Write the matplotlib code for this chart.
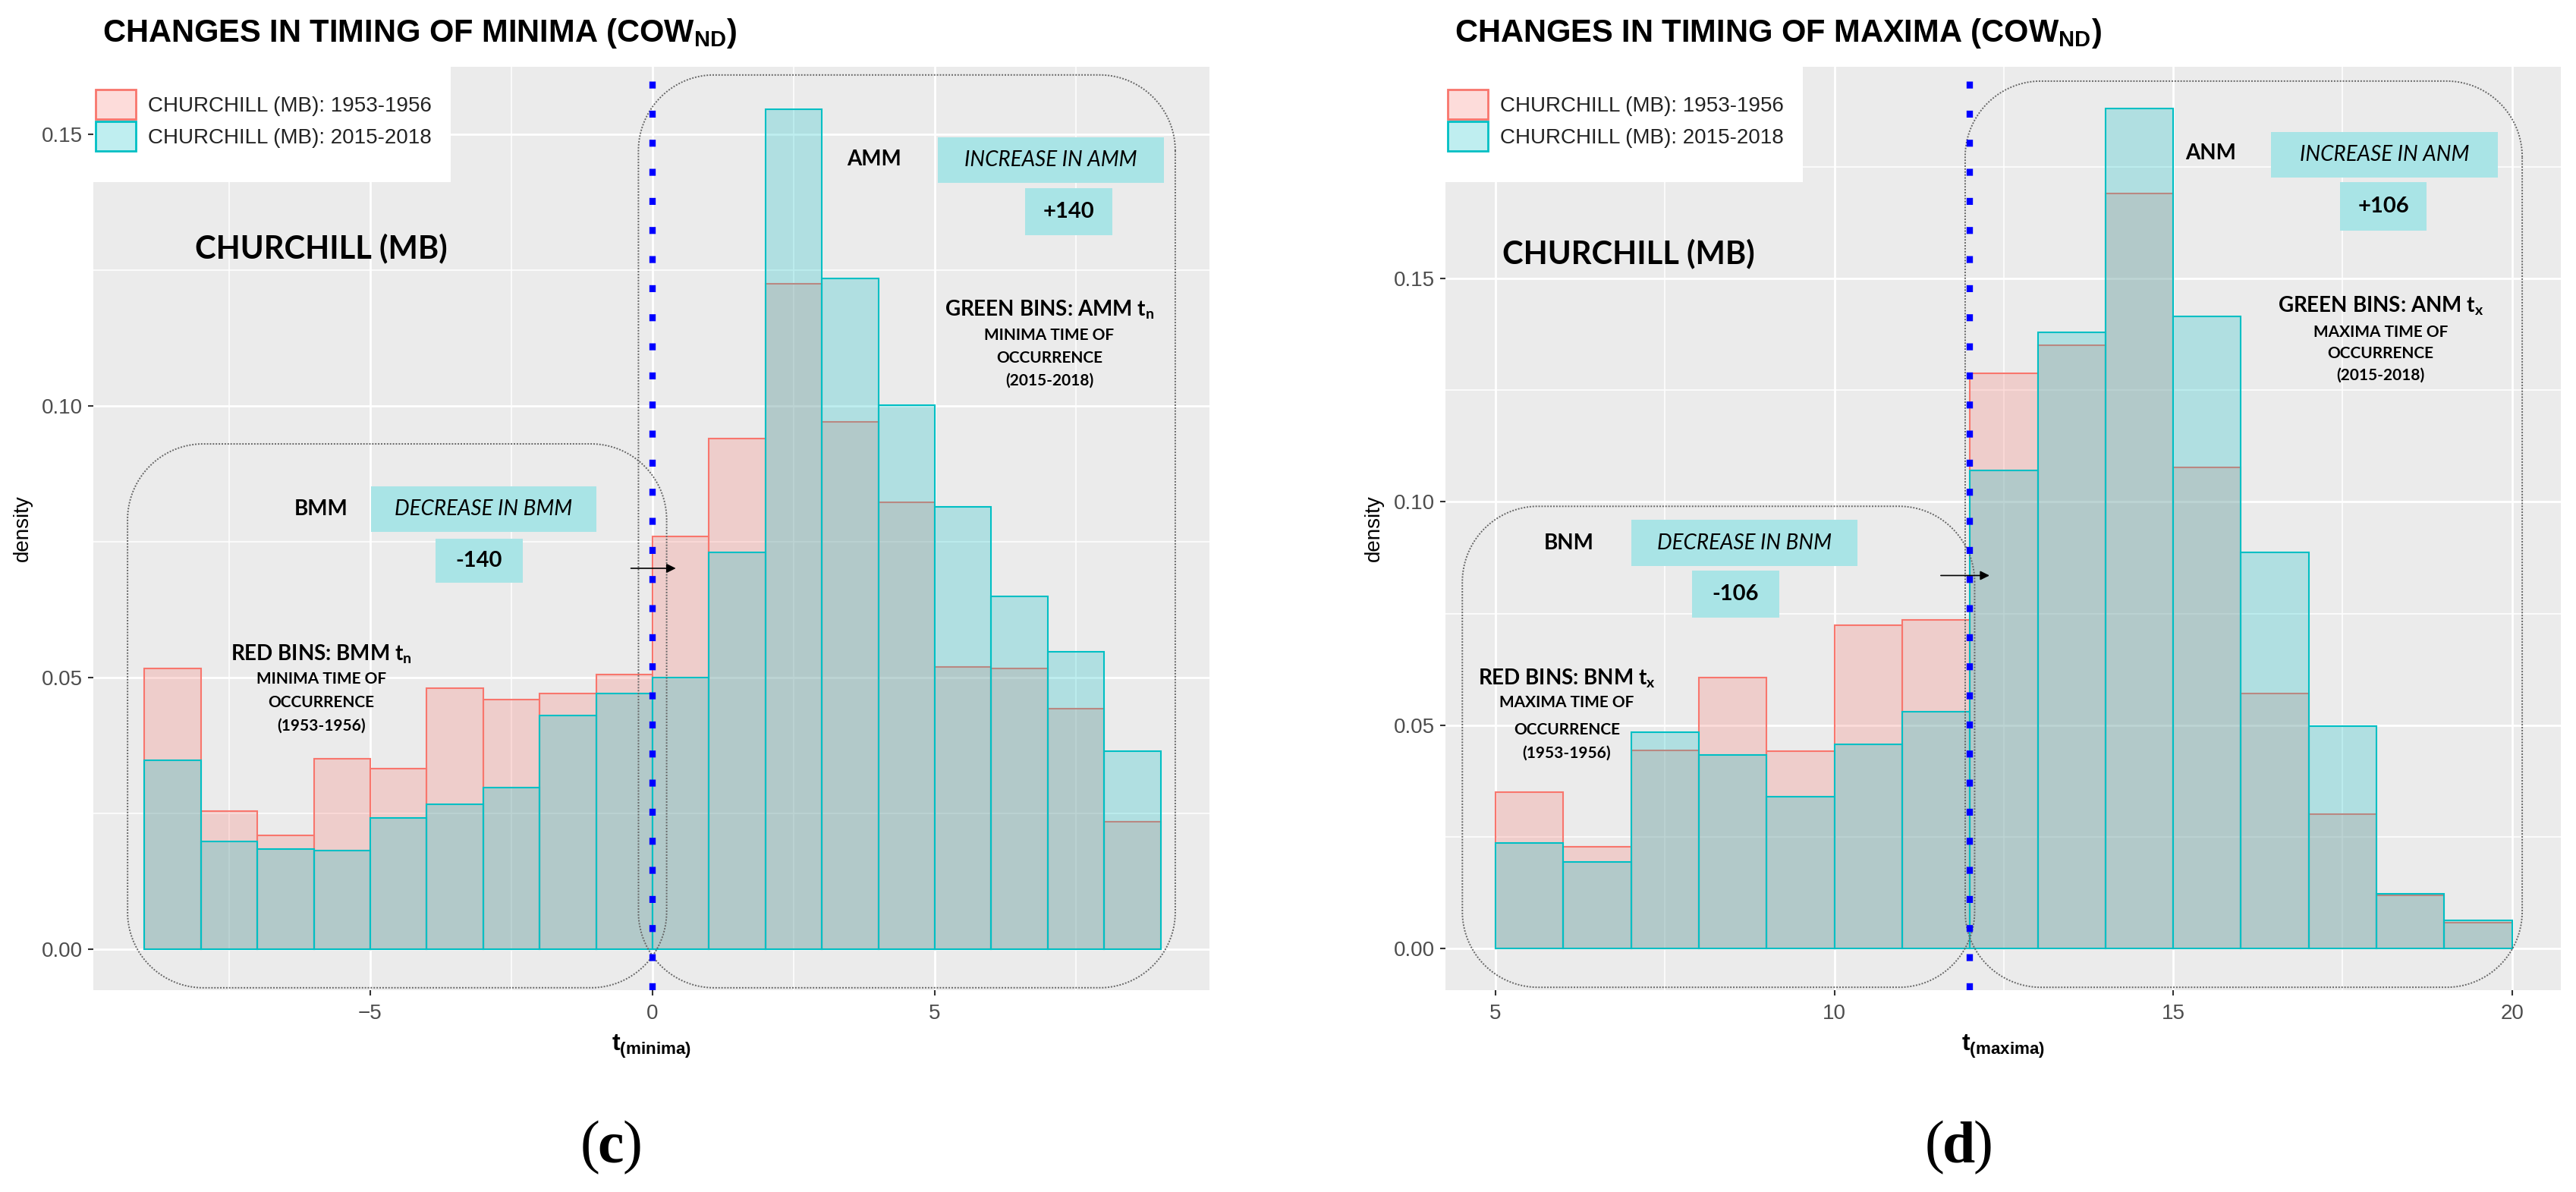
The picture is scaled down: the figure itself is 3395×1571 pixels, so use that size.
import numpy as np
import matplotlib
matplotlib.use("Agg")
import matplotlib.pyplot as plt
from matplotlib.patches import Patch, Rectangle
from matplotlib.colors import to_rgba

W, H = 3395, 1571
DPI = 100

# ── data: densities per 1-unit bin ───────────────────────────────────────────
min_edges = list(range(-9, 10))
min_1953 = [0.0517, 0.0254, 0.0209, 0.0351, 0.0332, 0.0480, 0.0460, 0.0470, 0.0505,
            0.0759, 0.0940, 0.1225, 0.0970, 0.0823, 0.0520, 0.0517, 0.0442, 0.0234]
min_2015 = [0.0348, 0.0198, 0.0185, 0.0181, 0.0241, 0.0267, 0.0297, 0.0430, 0.0470,
            0.0500, 0.0730, 0.1546, 0.1234, 0.1001, 0.0814, 0.0650, 0.0548, 0.0365]

max_edges = list(range(5, 21))
max_1953 = [0.0350, 0.0228, 0.0443, 0.0607, 0.0442, 0.0724, 0.0735, 0.1287,
            0.1350, 0.1690, 0.1077, 0.0570, 0.0300, 0.0119, 0.0057]
max_2015 = [0.0236, 0.0193, 0.0485, 0.0433, 0.0339, 0.0457, 0.0530, 0.1070,
            0.1380, 0.1880, 0.1415, 0.0886, 0.0497, 0.0123, 0.0063]

labels = ["CHURCHILL (MB): 1953-1956", "CHURCHILL (MB): 2015-2018"]

RED = "#F8766D"
TEAL = "#00BFC4"
BOXC = "#A9E4E6"
SANS = "Liberation Sans"
ANN = "Lato"

fig = plt.figure(figsize=(W / DPI, H / DPI), dpi=DPI)
fig.patch.set_facecolor("white")

# panel pixel geometry (top, bottom)
P_TOP, P_BOT = 88, 1305


def make_panel(x0px, x1px, xlim, ylim, xticks, xminor, yminor, xlab):
    ax = fig.add_axes([x0px / W, 1 - P_BOT / H, (x1px - x0px) / W, (P_BOT - P_TOP) / H])
    ax.set_facecolor("#EBEBEB")
    for s in ax.spines.values():
        s.set_visible(False)
    ax.set_axisbelow(True)
    ax.set_xticks(xticks)
    ax.set_xticks(xminor, minor=True)
    ax.set_yticks([0, 0.05, 0.10, 0.15])
    ax.set_yticks(yminor, minor=True)
    ax.set_yticklabels(["0.00", "0.05", "0.10", "0.15"])
    # limits after ticks so set_ticks cannot widen them
    ax.set_xlim(*xlim)
    ax.set_ylim(*ylim)
    ax.grid(which="major", color="white", lw=2.0)
    ax.grid(which="minor", color="white", lw=1.1)
    ax.tick_params(which="minor", length=0)
    ax.tick_params(which="major", length=5, width=1.5, color="#333333",
                   labelsize=20, labelcolor="#4D4D4D")
    ax.tick_params(axis="x", pad=8)
    ax.tick_params(axis="y", pad=5)
    for lab in ax.get_xticklabels() + ax.get_yticklabels():
        lab.set_family(SANS)
    ax.set_ylabel("density", fontsize=20, family=SANS, color="black")
    ax.yaxis.label.set_va("center")
    ax.text(0.5, -0.0657, "t$_\\mathregular{(" + xlab + ")}$", transform=ax.transAxes,
            ha="center", va="baseline", fontsize=23, fontweight="bold", family=SANS)
    pxx = (x1px - x0px) / (xlim[1] - xlim[0])
    pxy = (P_BOT - P_TOP) / (ylim[1] - ylim[0])
    return ax, pxx, pxy


def hist(ax, edges, old, new):
    left = edges[:-1]
    w = np.diff(edges)
    ax.bar(left, old, width=w, align="edge", color=to_rgba(RED, 0.25),
           edgecolor=RED, lw=1.5, zorder=2)
    ax.bar(left, new, width=w, align="edge", color=to_rgba(TEAL, 0.25),
           edgecolor=TEAL, lw=1.5, zorder=2.1)


def rbox(ax, x0, x1, y0, y1, pxx, pxy, r_px=100):
    # rounded rectangle with circular corners in pixel space
    rx, ry = r_px / pxx, r_px / pxy
    th = np.linspace(0, np.pi / 2, 40)
    parts = []
    for cx, cy, a0 in [(x1 - rx, y1 - ry, 0.0), (x0 + rx, y1 - ry, np.pi / 2),
                       (x0 + rx, y0 + ry, np.pi), (x1 - rx, y0 + ry, 1.5 * np.pi)]:
        t = a0 + th
        parts.append(np.column_stack([cx + rx * np.cos(t), cy + ry * np.sin(t)]))
    pts = np.vstack(parts + [parts[0][:1]])
    ax.plot(pts[:, 0], pts[:, 1], color="#666666", lw=1.4, ls=(0, (1.0, 1.0)),
            zorder=4, clip_on=False, scalex=False, scaley=False)


def tag(ax, x0, x1, y0, y1, txt, **kw):
    ax.add_patch(Rectangle((x0, y0), x1 - x0, y1 - y0, fc=BOXC, ec="none", zorder=5))
    ax.text((x0 + x1) / 2, (y0 + y1) / 2, txt, ha="center", va="center",
            family=ANN, zorder=6, **kw)


def legend(ax, x0px, x1px):
    ax.add_patch(Rectangle((0, (P_BOT - 240) / (P_BOT - P_TOP)), 471 / (x1px - x0px),
                           1, transform=ax.transAxes, fc="white", ec="none",
                           zorder=7, clip_on=False))
    handles = [Patch(fc=to_rgba(RED, 0.25), ec=RED, lw=2),
               Patch(fc=to_rgba(TEAL, 0.25), ec=TEAL, lw=2)]
    lg = ax.legend(handles, labels, loc="upper left",
                   bbox_to_anchor=(3 / (x1px - x0px), (P_BOT - 118) / (P_BOT - P_TOP)),
                   borderaxespad=0, borderpad=0, frameon=False,
                   handlelength=1.9, handleheight=1.8, handletextpad=0.6,
                   labelspacing=0.1, prop={"family": SANS, "size": 20})
    for t in lg.get_texts():
        t.set_color("#222222")
    lg.set_zorder(8)


def block(ax, x, ys, head, lines):
    ax.text(x, ys[0], head, ha="center", va="center", family=ANN,
            fontweight="bold", fontsize=20, zorder=6)
    for y, s in zip(ys[1:], lines):
        ax.text(x, y, s, ha="center", va="center", family=ANN,
                fontweight="bold", fontsize=15, zorder=6)


# ── (c) minima ───────────────────────────────────────────────────────────────
axL, pxxL, pxyL = make_panel(123, 1594, (-9.906, 9.866), (-0.00754, 0.1624),
                             [-5, 0, 5], [-7.5, -2.5, 2.5, 7.5],
                             [0.025, 0.075, 0.125], "minima")
axL.yaxis.set_label_coords(-0.0632, 0.5)
hist(axL, min_edges, min_1953, min_2015)
axL.axvline(0, color="#0000FF", lw=6, ls=(0, (1.1, 3.5)), zorder=4.5)
rbox(axL, -9.3, 0.25, -0.0071, 0.093, pxxL, pxyL)
rbox(axL, -0.25, 9.26, -0.0071, 0.1609, pxxL, pxyL)
axL.annotate("", xy=(0.45, 0.0701), xytext=(-0.42, 0.0701),
             arrowprops=dict(arrowstyle="-|>", color="black", lw=1.2, mutation_scale=18),
             zorder=6)
axL.text(-5.87, 0.129, "CHURCHILL (MB)", ha="center", va="center", family=ANN,
         fontweight="bold", fontsize=30, zorder=6)
axL.text(3.92, 0.1454, "AMM", ha="center", va="center", family=ANN,
         fontweight="bold", fontsize=20, zorder=6)
tag(axL, 5.05, 9.06, 0.1411, 0.1494, "INCREASE IN AMM", fontsize=20, style="italic")
tag(axL, 6.60, 8.15, 0.1314, 0.1401, "+140", fontsize=21, fontweight="bold")
block(axL, 7.03, [0.1177, 0.1129, 0.1088, 0.1047], "GREEN BINS: AMM t$_\\mathregular{n}$",
      ["MINIMA TIME OF", "OCCURRENCE", "(2015-2018)"])
axL.text(-5.87, 0.081, "BMM", ha="center", va="center", family=ANN,
         fontweight="bold", fontsize=20, zorder=6)
tag(axL, -4.99, -0.99, 0.0768, 0.0852, "DECREASE IN BMM", fontsize=20, style="italic")
tag(axL, -3.85, -2.30, 0.0674, 0.0756, "-140", fontsize=21, fontweight="bold")
block(axL, -5.87, [0.0543, 0.0497, 0.0454, 0.0411], "RED BINS: BMM t$_\\mathregular{n}$",
      ["MINIMA TIME OF", "OCCURRENCE", "(1953-1956)"])
legend(axL, 123, 1594)

# ── (d) maxima ───────────────────────────────────────────────────────────────
axR, pxxR, pxyR = make_panel(1905, 3375, (4.261, 20.72), (-0.00934, 0.1974),
                             [5, 10, 15, 20], [7.5, 12.5, 17.5],
                             [0.025, 0.075, 0.125, 0.175], "maxima")
axR.yaxis.set_label_coords(-0.064, 0.5)
hist(axR, max_edges, max_1953, max_2015)
axR.axvline(12, color="#0000FF", lw=6, ls=(0, (1.1, 3.5)), zorder=4.5)
rbox(axR, 4.51, 12.07, -0.0087, 0.099, pxxR, pxyR)
rbox(axR, 11.93, 20.15, -0.0087, 0.1942, pxxR, pxyR)
axR.annotate("", xy=(12.32, 0.0835), xytext=(11.54, 0.0835),
             arrowprops=dict(arrowstyle="-|>", color="black", lw=1.2, mutation_scale=18),
             zorder=6)
axR.text(6.96, 0.1556, "CHURCHILL (MB)", ha="center", va="center", family=ANN,
         fontweight="bold", fontsize=30, zorder=6)
axR.text(15.55, 0.178, "ANM", ha="center", va="center", family=ANN,
         fontweight="bold", fontsize=20, zorder=6)
tag(axR, 16.44, 19.79, 0.1726, 0.1828, "INCREASE IN ANM", fontsize=20, style="italic")
tag(axR, 17.46, 18.74, 0.1607, 0.1715, "+106", fontsize=21, fontweight="bold")
block(axR, 18.06, [0.1439, 0.1380, 0.1332, 0.1284], "GREEN BINS: ANM t$_\\mathregular{x}$",
      ["MAXIMA TIME OF", "OCCURRENCE", "(2015-2018)"])
axR.text(6.08, 0.0908, "BNM", ha="center", va="center", family=ANN,
         fontweight="bold", fontsize=20, zorder=6)
tag(axR, 7.00, 10.34, 0.0857, 0.0959, "DECREASE IN BNM", fontsize=20, style="italic")
tag(axR, 7.90, 9.19, 0.0741, 0.0846, "-106", fontsize=21, fontweight="bold")
block(axR, 6.05, [0.0605, 0.0550, 0.0490, 0.0437], "RED BINS: BNM t$_\\mathregular{x}$",
      ["MAXIMA TIME OF", "OCCURRENCE", "(1953-1956)"])
legend(axR, 1905, 3375)

# ── titles and captions ──────────────────────────────────────────────────────
fig.text(135 / W, 1 - 55 / H, "CHANGES IN TIMING OF MINIMA (COW$_\\mathregular{ND}$)",
         fontsize=30, fontweight="bold", family=SANS, va="baseline")
fig.text(1917 / W, 1 - 55 / H, "CHANGES IN TIMING OF MAXIMA (COW$_\\mathregular{ND}$)",
         fontsize=30, fontweight="bold", family=SANS, va="baseline")

for cx, letter in [(805, "c"), (2581, "d")]:
    y = 1 - 1513 / H
    half = 15 if letter == "c" else 19
    fig.text((cx - half) / W, y, "(", ha="right", va="center", fontsize=56,
             family="Liberation Serif")
    fig.text(cx / W, y, letter, ha="center", va="center", fontsize=56,
             family="Liberation Serif", fontweight="bold")
    fig.text((cx + half) / W, y, ")", ha="left", va="center", fontsize=56,
             family="Liberation Serif")

fig.savefig("out.png", dpi=DPI)
